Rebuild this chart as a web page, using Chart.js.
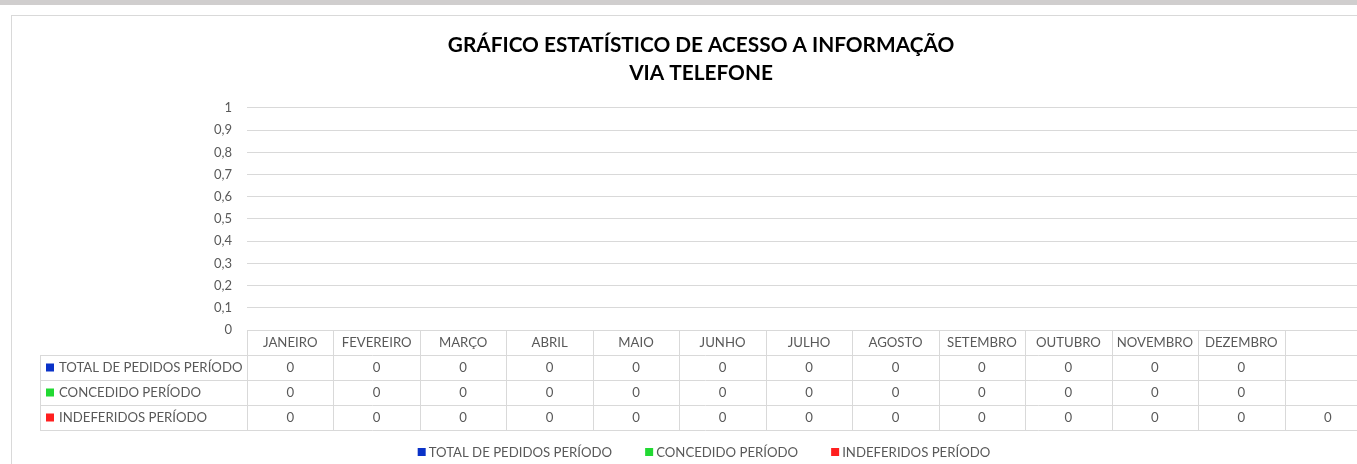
<!DOCTYPE html>
<html lang="pt-BR">
<head>
<meta charset="utf-8">
<title>Gráfico estatístico de acesso a informação - via telefone</title>
<script src="https://cdn.jsdelivr.net/npm/chart.js@4/dist/chart.umd.min.js"></script>
<style>
  html, body { margin: 0; padding: 0; background: #fff; overflow: hidden; }
  body { width: 1357px; height: 464px; position: relative; }
  .topo { position: absolute; left: 0; top: 0; width: 1357px; height: 5px; background: #d0cece; }
  .moldura { position: absolute; left: 11px; top: 15px; width: 1400px; height: 460px;
             border-top: 1px solid #d9d9d9; border-left: 1px solid #d9d9d9; }
  .grafico { position: absolute; left: 0; top: 0; width: 1400px; height: 464px; }
</style>
</head>
<body>
<div class="topo"></div>
<div class="moldura"></div>
<div class="grafico"><canvas id="graficoTelefone" width="1400" height="464"></canvas></div>

<script>
const meses = ['JANEIRO', 'FEVEREIRO', 'MARÇO', 'ABRIL', 'MAIO', 'JUNHO', 'JULHO',
               'AGOSTO', 'SETEMBRO', 'OUTUBRO', 'NOVEMBRO', 'DEZEMBRO', ''];
const totalPedidos = [0, 0, 0, 0, 0, 0, 0, 0, 0, 0, 0, 0, null];
const concedidos   = [0, 0, 0, 0, 0, 0, 0, 0, 0, 0, 0, 0, null];
const indeferidos  = [0, 0, 0, 0, 0, 0, 0, 0, 0, 0, 0, 0, 0];
const tituloLinhas = ['GRÁFICO ESTATÍSTICO DE ACESSO A INFORMAÇÃO', 'VIA TELEFONE'];

const corTexto = '#595959';
const corGrade = '#d9d9d9';
const fonte = 'Lato, "Open Sans", sans-serif';

// tabela de dados abaixo do eixo + legenda (estilo Excel)
const tabelaDados = {
    id: 'tabelaDados',
    afterDraw(chart) {
        const ctx = chart.ctx;
        const area = chart.chartArea;
        const x = chart.scales.x;
        const larg = (area.right - area.left) / meses.length;
        const alt = 25;
        const topo = area.bottom;
        const esq = 40;

        ctx.save();
        ctx.strokeStyle = corGrade;
        ctx.lineWidth = 1;

        // linhas horizontais
        ctx.beginPath();
        for (let r = 1; r <= 4; r++) {
            const y = Math.round(topo + r * alt) + 0.5;
            ctx.moveTo(esq, y);
            ctx.lineTo(area.right, y);
        }
        // linhas verticais
        const nLinhas = chart.data.datasets.length + 1;
        for (let i = 0; i <= meses.length; i++) {
            const xv = Math.round(area.left + i * larg) + 0.5;
            ctx.moveTo(xv, topo);
            ctx.lineTo(xv, topo + nLinhas * alt);
        }
        ctx.moveTo(esq + 0.5, topo + alt);
        ctx.lineTo(esq + 0.5, topo + nLinhas * alt);
        ctx.stroke();

        ctx.font = '13.2px ' + fonte;
        ctx.fillStyle = corTexto;
        ctx.textAlign = 'center';
        ctx.textBaseline = 'middle';

        meses.forEach((m, i) => {
            ctx.fillText(m, x.getPixelForValue(i), topo + alt / 2);
        });

        chart.data.datasets.forEach((ds, r) => {
            const yc = topo + (r + 1) * alt + alt / 2;
            ds.data.forEach((v, i) => {
                if (v === null || v === undefined) return;
                ctx.fillStyle = corTexto;
                ctx.textAlign = 'center';
                ctx.fillText(String(v).replace('.', ','), x.getPixelForValue(i), yc);
            });
            ctx.fillStyle = ds.backgroundColor;
            ctx.fillRect(esq + 6, yc - 4, 8, 8);
            ctx.fillStyle = corTexto;
            ctx.textAlign = 'left';
            ctx.fillText(ds.label, esq + 19, yc);
        });

        // legenda inferior
        const gap = 33;
        const itens = chart.data.datasets.map(ds => ({
            cor: ds.backgroundColor, txt: ds.label, w: 11 + ctx.measureText(ds.label).width
        }));
        const total = itens.reduce((s, it) => s + it.w, 0) + gap * (itens.length - 1);
        let lx = chart.width / 2 + 4 - total / 2;
        const ly = 452;
        itens.forEach(it => {
            ctx.fillStyle = it.cor;
            ctx.fillRect(lx, ly - 4, 8, 8);
            ctx.fillStyle = corTexto;
            ctx.textAlign = 'left';
            ctx.fillText(it.txt, lx + 11, ly + 1);
            lx += it.w + gap;
        });
        ctx.restore();
    }
};

new Chart(document.getElementById('graficoTelefone'), {
    type: 'bar',
    data: {
        labels: meses,
        datasets: [
            { label: 'TOTAL DE PEDIDOS PERÍODO', data: totalPedidos, backgroundColor: '#0a32c8' },
            { label: 'CONCEDIDO PERÍODO', data: concedidos, backgroundColor: '#22d933' },
            { label: 'INDEFERIDOS PERÍODO', data: indeferidos, backgroundColor: '#ff1f1f' }
        ]
    },
    options: {
        responsive: false,
        animation: false,
        layout: { padding: { top: 0, left: 31, right: 29, bottom: 134 } },
        plugins: {
            legend: { display: false },
            tooltip: { enabled: false },
            title: {
                display: true,
                text: tituloLinhas,
                color: '#000',
                font: { family: fonte, size: 20.8, weight: 'bold', lineHeight: 1.346 },
                padding: { top: 31, bottom: 21 }
            }
        },
        scales: {
            x: {
                grid: { display: false },
                border: { display: false },
                ticks: { display: false },
                afterFit(s) { s.height = 0; }
            },
            y: {
                min: 0,
                max: 1,
                ticks: {
                    stepSize: 0.1,
                    color: corTexto,
                    padding: 15,
                    font: { family: fonte, size: 13 },
                    callback: v => String(Math.round(v * 10) / 10).replace('.', ',')
                },
                grid: { color: corGrade, drawTicks: false },
                border: { display: false },
                afterFit(s) { s.width = 216; }
            }
        }
    },
    plugins: [tabelaDados]
});
</script>
</body>
</html>
